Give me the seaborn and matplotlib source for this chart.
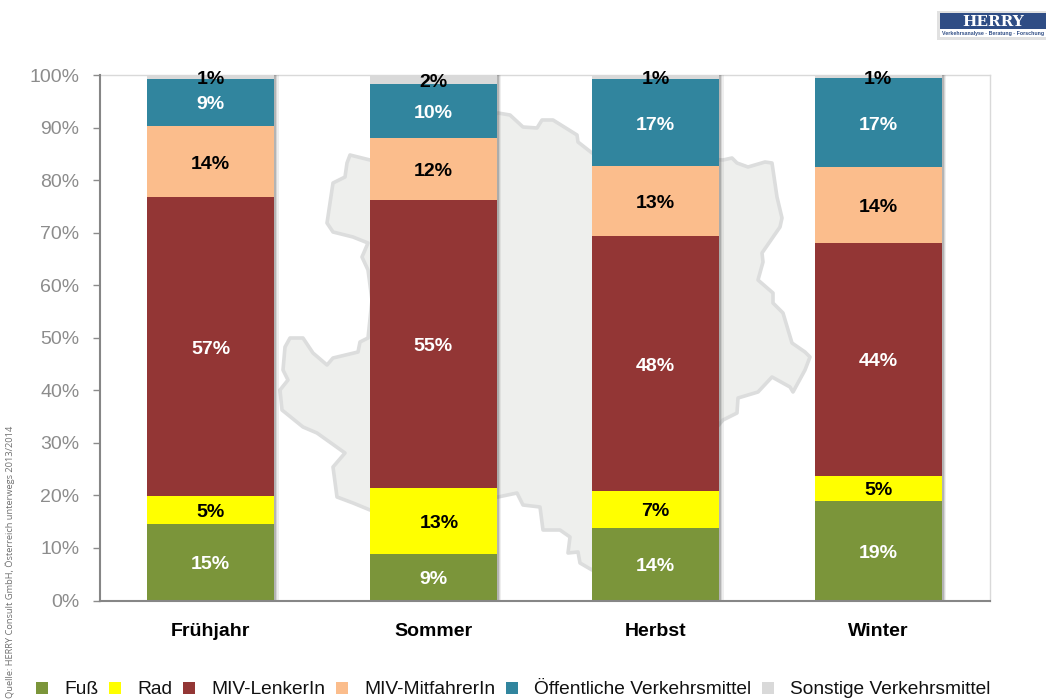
import matplotlib
matplotlib.use("Agg")
import matplotlib.pyplot as plt
import matplotlib.patheffects as pe
from matplotlib.patches import Polygon, Rectangle
import pandas as pd
import seaborn as sns

seasons = ["Frühjahr", "Sommer", "Herbst", "Winter"]
fuss = [14.6, 8.85, 13.8, 19.0]
rad = [5.2, 12.65, 7.1, 4.75]
miv_lenker = [57.0, 54.7, 48.4, 44.35]
miv_mitfahrer = [13.5, 11.9, 13.3, 14.3]
oeffentlich = [9.0, 10.1, 16.7, 17.0]
sonstige = [0.7, 1.8, 0.7, 0.6]
series_names = ["Fuß", "Rad", "MIV-LenkerIn", "MIV-MitfahrerIn",
                "Öffentliche Verkehrsmittel", "Sonstige Verkehrsmittel"]
series_values = [fuss, rad, miv_lenker, miv_mitfahrer, oeffentlich, sonstige]
source_text = "Quelle: HERRY Consult GmbH, Österreich unterwegs 2013/2014"

colors = ["#7b953a", "#ffff00", "#933635", "#fbbd8c", "#31859e", "#d9d9d9"]
label_colors = ["white", "black", "white", "black", "white", "black"]

# Decorative background silhouette, traced in image pixels
map_outline = [
    (370,160),(350,155),(347,163),(345,177),(333,183),(330,203),(327,223),(333,232),
    (353,237),(368,243),(362,257),(368,270),(372,300),(368,338),(360,342),(358,352),
    (333,358),(327,365),(313,353),(303,338),(290,338),(285,347),(283,370),(288,380),
    (280,390),(282,410),(303,427),(317,433),(345,453),(333,467),(337,497),(353,503),
    (370,510),(498,497),(517,493),(523,505),(540,507),(543,530),(560,530),(570,537),
    (568,553),(578,552),(580,563),(592,570),(723,420),(737,413),(738,398),(758,392),
    (772,377),(790,387),(793,392),(805,370),(810,357),(805,352),(792,343),(783,313),
    (773,303),(773,293),(758,280),(763,262),(762,253),(780,227),(782,218),(777,197),
    (772,163),(765,162),(748,167),(737,163),(732,158),(723,160),(592,153),(578,142),
    (577,135),(553,120),(542,120),(537,128),(523,127),(510,115),(498,113),
]

W, H = 1046, 699
sns.set_theme(style="white")
plt.rcParams["font.family"] = ["Liberation Sans", "DejaVu Sans"]

fig = plt.figure(figsize=(W / 100, H / 100), dpi=100, facecolor="white")
ax = fig.add_axes([99.5 / W, (H - 600.5) / H, (989.5 - 99.5) / W, (600.5 - 75) / H])
ax.patch.set_alpha(0)

def px(x, y):
    return (x / W, 1 - y / H)

fig.add_artist(Polygon([px(x, y) for x, y in map_outline], closed=True,
                       transform=fig.transFigure, facecolor="#eeefed",
                       edgecolor="#dcdddd", linewidth=2.6, joinstyle="round", zorder=-5))

df = pd.DataFrame({"season": seasons})
bottom = [0.0] * len(seasons)
for name, vals, col in zip(series_names, series_values, colors):
    df["value"] = vals
    before = len(ax.patches)
    sns.barplot(data=df, x="season", y="value", order=seasons, color=col, saturation=1,
                width=0.572, bottom=bottom, errorbar=None, ax=ax, linewidth=0, zorder=3)
    for p in ax.patches[before:]:
        p.set_path_effects([
            pe.SimplePatchShadow(offset=(3.2, 0), shadow_rgbFace="#777777", alpha=0.12),
            pe.SimplePatchShadow(offset=(2.2, 0), shadow_rgbFace="#777777", alpha=0.2),
            pe.SimplePatchShadow(offset=(1.2, 0), shadow_rgbFace="#666666", alpha=0.3),
            pe.Normal()])
    bottom = [b + v for b, v in zip(bottom, vals)]

# Data labels
bottom = [0.0] * len(seasons)
for s, (vals, lc) in enumerate(zip(series_values, label_colors)):
    for i, v in enumerate(vals):
        dx = 6 if (s == 1 and i == 1) else 0
        ax.annotate(f"{v:.0f}%", (i, bottom[i] + v / 2), xytext=(dx * 0.72, -0.4),
                    textcoords="offset points", ha="center", va="center_baseline",
                    fontsize=14, fontweight="bold", color=lc, zorder=6)
        bottom[i] += v

ax.set_xlim(-0.5, 3.5)
ax.set_ylim(0, 100)
ax.set_yticks(range(0, 101, 10))
ax.set_yticklabels([f"{t}%" for t in range(0, 101, 10)], fontsize=14, color="#8c8c8c")
ax.tick_params(axis="y", left=True, length=5, width=1, color="#8c8c8c", pad=9.5)
ax.tick_params(axis="x", bottom=False, pad=10)
ax.set_xticks(range(4))
ax.set_xticklabels(seasons, fontsize=14, fontweight="bold", color="black")
ax.set_xlabel("")
ax.set_ylabel("")
for side in ("left", "bottom"):
    ax.spines[side].set_color("#868686")
    ax.spines[side].set_linewidth(1.5)
    ax.spines[side].set_zorder(5)
for side in ("top", "right"):
    ax.spines[side].set_color("#d9d9d9")
    ax.spines[side].set_linewidth(1)
ax.spines["top"].set_zorder(1)
ax.spines["right"].set_zorder(1)

# Legend
handles = [Rectangle((0, 0), 1, 1, facecolor=c, linewidth=0) for c in colors]
fs = 13.8
fig.legend(handles, series_names, ncol=6, frameon=False, fontsize=fs,
           loc="lower left", bbox_to_anchor=(36 / W, 0.5 / H), borderpad=0, borderaxespad=0,
           handlelength=12 / (fs / 0.72), handleheight=12 / (fs / 0.72),
           handletextpad=16 / (fs / 0.72), columnspacing=11 / (fs / 0.72),
           labelcolor="#111111")

# Source note
fig.text(*px(10, 698), source_text, rotation=90, ha="center", va="bottom",
         fontsize=6.65, color="#707070", family="Open Sans")

# Logo
fig.add_artist(Rectangle(px(937, 40), 112 / W, 29 / H, transform=fig.transFigure,
                         facecolor="#c4c4c4", linewidth=0, alpha=0.5, zorder=1))
fig.add_artist(Rectangle(px(940, 37), 106 / W, 24 / H, transform=fig.transFigure,
                         facecolor="white", linewidth=0, zorder=2))
fig.add_artist(Rectangle(px(940, 28.5), 106 / W, 15.5 / H, transform=fig.transFigure,
                         facecolor="#2f4d85", linewidth=0, zorder=3))
fig.text(*px(993, 21.5), "HERRY", ha="center", va="center", fontsize=11,
         fontweight="bold", color="white", family="DejaVu Serif", zorder=4)
fig.text(*px(993, 33), "Verkehrsanalyse · Beratung · Forschung", ha="center", va="center",
         fontsize=3.8, fontweight="bold", color="#2f4d85", zorder=4)

fig.savefig("out.png", dpi=100)
